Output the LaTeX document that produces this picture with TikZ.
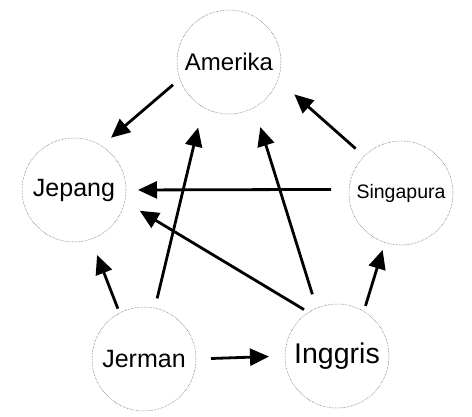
\documentclass[tikz,border=0pt]{standalone}
\usepackage{fontspec}
\setmainfont{Liberation Sans}
\usetikzlibrary{arrows.meta}
\begin{document}
\begin{tikzpicture}[x=1pt,y=-1pt,
  country/.style={circle,draw=black!70,densely dotted,line width=0.5pt,minimum size=104pt,inner sep=0pt,outer sep=0pt},
  link/.style={line width=2.8pt,-{Triangle[length=19pt,width=17pt]}}]
\useasboundingbox (0,0) rectangle (472,416);
\node[country,font=\fontsize{24}{24}\selectfont] (amerika) at (229,62) {Amerika};
\node[country,font=\fontsize{25}{25}\selectfont] (jepang) at (74,190) {Jepang};
\node[country,font=\fontsize{19.5}{19.5}\selectfont] (singapura) at (401,193) {Singapura};
\node[country,font=\fontsize{25}{25}\selectfont] (jerman) at (144,359) {Jerman};
\node[country,font=\fontsize{28.5}{28.5}\selectfont] (inggris) at (337,356) {Inggris};
\draw[link,shorten <=9pt,shorten >=12.5pt] (amerika.199) -- (jepang.58);
\draw[link,shorten <=10pt,shorten >=21pt] (jerman.78) -- (amerika.240.6);
\draw[link,shorten <=14.5pt,shorten >=20.5pt] (inggris.113.9) -- (amerika.299.7);
\draw[link,shorten <=11.5pt,shorten >=22pt] (singapura.135) -- (amerika.340.3);
\draw[link,shorten <=18pt,shorten >=12pt] (singapura.176.7) -- (jepang.0.9);
\draw[link,shorten <=5.5pt,shorten >=17.5pt] (inggris.123.7) -- (jepang.347.6);
\draw[link,shorten <=4.8pt,shorten >=17pt] (jerman.118.4) -- (jepang.289.5);
\draw[link,shorten <=5.8pt,shorten >=7.8pt] (inggris.59.9) -- (singapura.252.5);
\draw[link,shorten <=15pt,shorten >=16pt] (jerman.0.9) -- (inggris.180);
\end{tikzpicture}
\end{document}
